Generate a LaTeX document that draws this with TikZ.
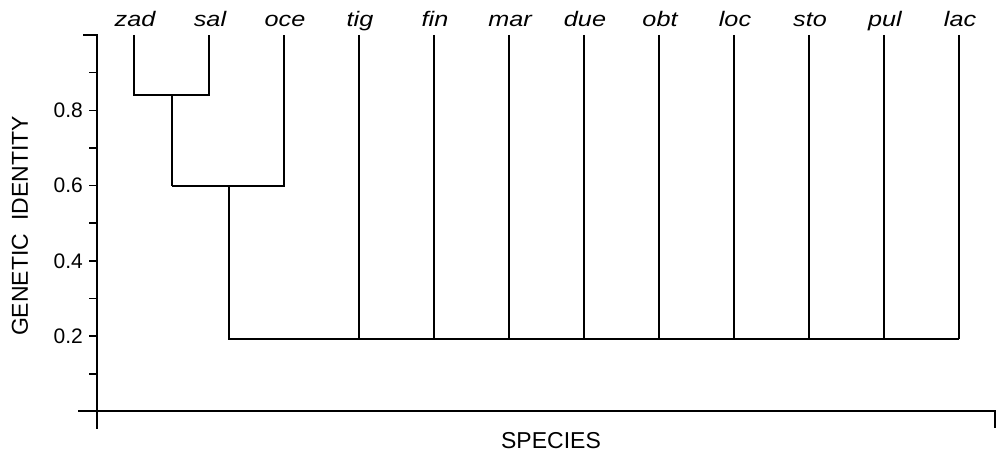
\documentclass[tikz,border=0pt]{standalone}
\usepackage{fontspec}
\setmainfont{Liberation Sans}
\begin{document}
\begin{tikzpicture}[x=1pt,y=-1pt,
  axisline/.style={line width=1.6pt},
  branch/.style={line width=1.5pt},
  leaflabel/.style={anchor=base, inner sep=0pt, xscale=1.2, font=\itshape\fontsize{21}{21}\selectfont},
  ticklabel/.style={anchor=east, inner sep=0pt, font=\fontsize{21}{21}\selectfont},
  axistitle/.style={inner sep=0pt, font=\fontsize{23}{23}\selectfont}]
\useasboundingbox (0,0) rectangle (1003,454);
% axes
\coordinate (ytick) at (83,35);
\coordinate (ytop) at (97,35);
\coordinate (ybot) at (97,429);
\coordinate (xl) at (78,411);
\coordinate (xr) at (995,411);
\coordinate (xrt) at (995,428);
\draw[axisline] (ytick) -- (ytop) -- (ybot);
\draw[axisline] (xl) -- (xr) -- (xrt);
\foreach \i in {1,...,9} {
  \draw[axisline] (89,{411.6-\i*37.66}) -- (97,{411.6-\i*37.66});
}
\foreach \v/\i in {0.2/2,0.4/4,0.6/6,0.8/8} {
  \node[ticklabel] (tl\i) at (83,{411.6-\i*37.66}) {\v};
}
\node[axistitle, rotate=90] (ytitle) at (20,226) {GENETIC\ \ IDENTITY};
\node[axistitle] (xtitle) at (551,441) {SPECIES};
% leaves
\foreach \n/\x in {zad/134,sal/209,oce/284,tig/359,fin/434,mar/509,due/584,obt/659,loc/734,sto/809,pul/884,lac/959} {
  \node[leaflabel] (lab-\n) at (\x+1,27) {\n};
  \coordinate (t-\n) at (\x,35);
}
% junctions
\coordinate (jA) at (172,95);
\coordinate (jB) at (229,186);
\coordinate (jC) at (229,339);
\draw[branch] (t-zad) -- (t-zad |- jA) -- (t-sal |- jA) -- (t-sal);
\draw[branch] (jA) -- (jA |- jB);
\draw[branch] (jA |- jB) -- (t-oce |- jB) -- (t-oce);
\draw[branch] (jB) -- (jC) -- (t-lac |- jC);
\foreach \n in {tig,fin,mar,due,obt,loc,sto,pul,lac} {
  \draw[branch] (t-\n) -- (t-\n |- jC);
}
\end{tikzpicture}
\end{document}
